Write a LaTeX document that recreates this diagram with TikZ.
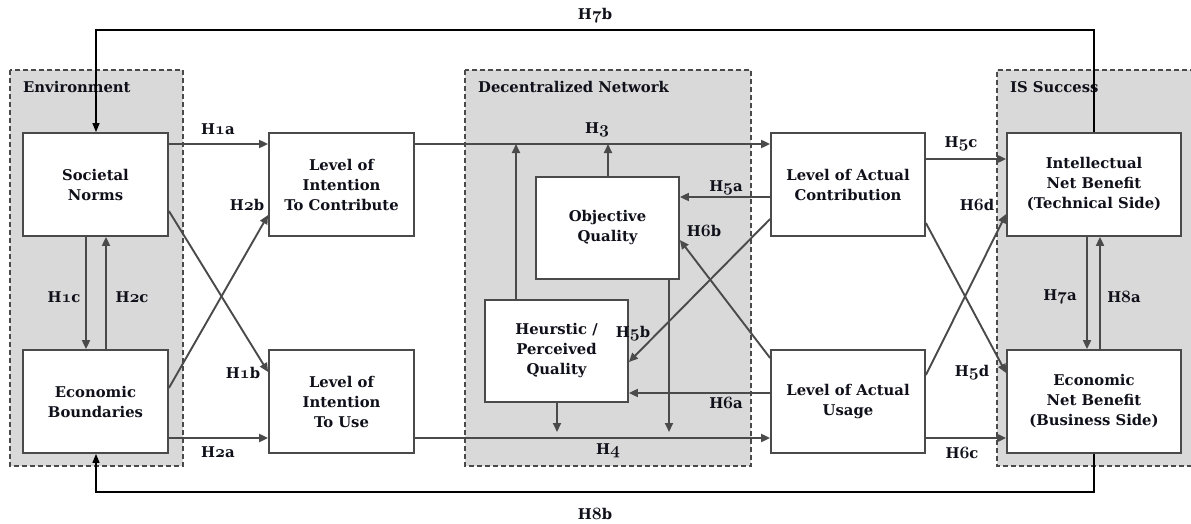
\documentclass[tikz,border=0pt]{standalone}
\usepackage{fontspec}
\setmainfont{DejaVu Serif}
\usetikzlibrary{arrows.meta}
% old-style figures for the hypothesis labels
\newcommand\osn[1]{{\fontencoding{OML}\fontfamily{cmm}\fontseries{b}\fontshape{it}\selectfont\fontsize{17}{17}\selectfont #1}}
\definecolor{grpfill}{HTML}{D9D9D9}
\definecolor{linegray}{HTML}{4A4A4A}
\definecolor{txt}{HTML}{10101A}
\begin{document}
\begin{tikzpicture}[x=1pt,y=-1pt,
  every node/.style={font=\bfseries\fontsize{14.8}{20}\selectfont, text=txt},
  grp/.style={draw=linegray, dashed, line width=1.6pt, fill=grpfill, dash pattern=on 5pt off 3pt},
  box/.style={draw=linegray, line width=1.8pt, fill=white, align=center, inner sep=0pt,
              minimum width=145pt, minimum height=103pt},
  conn/.style={draw=linegray, line width=1.9pt, -{Triangle[length=9pt,width=8pt]}},
  loop/.style={draw=black, line width=1.3pt, -{Triangle[length=9pt,width=7pt]}},
  hyp/.style={inner sep=0pt},
  grplabel/.style={anchor=west, inner sep=0pt}]
\useasboundingbox (0,0) rectangle (1191,524);

% grouping areas
\path[grp] (10,70) rectangle (183,466);
\path[grp] (465,70) rectangle (751,466);
\fill[grpfill] (997,70) rectangle (1191,466);
\draw[draw=linegray, line width=1.6pt, dash pattern=on 5pt off 3pt] (1195,70) -- (997,70) -- (997,466) -- (1195,466);
\node[grplabel] (genv) at (23,87) {Environment};
\node[grplabel] (gnet) at (478,87) {Decentralized Network};
\node[grplabel] (gis) at (1010,87) {IS Success};

% constructs
\node[box] (sn)  at (95.5,184.5)  {Societal\\Norms};
\node[box] (eb)  at (95.5,401.5)  {Economic\\Boundaries};
\node[box] (itc) at (341.5,184.5) {Level of\\Intention\\To Contribute};
\node[box] (itu) at (341.5,401.5) {Level of\\Intention\\To Use};
\node[box, minimum width=143pt, minimum height=102pt] (oq) at (607.5,228) {Objective\\Quality};
\node[box, minimum width=143pt, minimum height=102pt] (hq) at (556.5,351) {Heurstic /\\Perceived\\Quality};
\node[box, minimum width=154pt] (lac) at (848,184.5) {Level of Actual\\Contribution};
\node[box, minimum width=154pt] (lau) at (848,401.5) {Level of Actual\\Usage};
\node[box, minimum width=174pt] (inb) at (1094,184.5) {Intellectual\\Net Benefit\\(Technical Side)};
\node[box, minimum width=174pt] (enb) at (1094,401.5) {Economic\\Net Benefit\\(Business Side)};

% helper points
\coordinate (h3a) at (516,144);
\coordinate (h3b) at (608,144);
\coordinate (h4a) at (557,432);
\coordinate (h4b) at (669,432);
\coordinate (top) at (0,30);
\coordinate (bot) at (0,492);

% environment -> intention
\draw[conn] ([yshift=40.5pt]sn.east) -- ([yshift=40.5pt]itc.west);
\draw[conn] ([yshift=-36.5pt]eb.east) -- ([yshift=-36.5pt]itu.west);
\draw[conn] ([yshift=-26.5pt]sn.east) -- ([yshift=29.5pt]itu.west);
\draw[conn] ([yshift=13.5pt]eb.east) -- ([yshift=-30.5pt]itc.west);
\draw[conn] ([xshift=-9.5pt]sn.south) -- ([xshift=-9.5pt]eb.north);
\draw[conn] ([xshift=10.5pt]eb.north) -- ([xshift=10.5pt]sn.south);

% intention -> actual behaviour
\draw[conn] ([yshift=40.5pt]itc.east) -- ([yshift=40.5pt]lac.west);
\draw[conn] ([yshift=-36.5pt]itu.east) -- ([yshift=-36.5pt]lau.west);

% quality moderation
\draw[conn] ([xshift=-40.5pt]hq.north) -- (h3a);
\draw[conn] ([xshift=0.5pt]oq.north) -- (h3b);
\draw[conn] ([xshift=0.5pt]hq.south) -- (h4a);
\draw[conn] ([xshift=61.5pt]oq.south) -- (h4b);

% actual behaviour -> quality
\draw[conn] ([yshift=-12.5pt]lac.west) -- ([yshift=31pt]oq.east);
\draw[conn] ([yshift=-34.5pt]lac.west) -- ([yshift=-11pt]hq.east);
\draw[conn] ([yshift=8.5pt]lau.west) -- ([yshift=-42pt]hq.east);
\draw[conn] ([yshift=43.5pt]lau.west) -- ([yshift=-12pt]oq.east);

% actual behaviour -> net benefits
\draw[conn] ([yshift=25.5pt]lac.east) -- ([yshift=25.5pt]inb.west);
\draw[conn] ([yshift=-36.5pt]lau.east) -- ([yshift=-36.5pt]enb.west);
\draw[conn] ([yshift=26.5pt]lau.east) -- ([yshift=-29.5pt]inb.west);
\draw[conn] ([yshift=-38.5pt]lac.east) -- ([yshift=28.5pt]enb.west);
\draw[conn] ([xshift=-7pt]inb.south) -- ([xshift=-7pt]enb.north);
\draw[conn] ([xshift=6pt]enb.north) -- ([xshift=6pt]inb.south);

% feedback loops
\draw[loop] (inb.north) -- (inb.north |- top) -| ([xshift=0.5pt]sn.north);
\draw[loop] (enb.south) -- (enb.south |- bot) -| ([xshift=0.5pt]eb.south);

% hypothesis labels
\node[hyp] (l7b) at (595,16)   {H\osn{7}b};
\node[hyp] (l8b) at (595,514)  {H\osn{8}b};
\node[hyp] (l1a) at (218,129)  {H\osn{1}a};
\node[hyp] (l2a) at (218,452)  {H\osn{2}a};
\node[hyp] (l2b) at (247,205)  {H\osn{2}b};
\node[hyp] (l1b) at (243,373)  {H\osn{1}b};
\node[hyp] (l1c) at (64,297)   {H\osn{1}c};
\node[hyp] (l2c) at (132,297)  {H\osn{2}c};
\node[hyp] (l3)  at (597,130)  {H\osn{3}};
\node[hyp] (l4)  at (608,451)  {H\osn{4}};
\node[hyp] (l5a) at (726,188)  {H\osn{5}a};
\node[hyp] (l6b) at (704,231)  {H\osn{6}b};
\node[hyp] (l5b) at (633,334)  {H\osn{5}b};
\node[hyp] (l6a) at (726,403)  {H\osn{6}a};
\node[hyp] (l5c) at (961,144)  {H\osn{5}c};
\node[hyp] (l6d) at (977,205)  {H\osn{6}d};
\node[hyp] (l5d) at (972,373)  {H\osn{5}d};
\node[hyp] (l6c) at (962,453)  {H\osn{6}c};
\node[hyp] (l7a) at (1060,297) {H\osn{7}a};
\node[hyp] (l8a) at (1124,297) {H\osn{8}a};
\end{tikzpicture}
\end{document}
